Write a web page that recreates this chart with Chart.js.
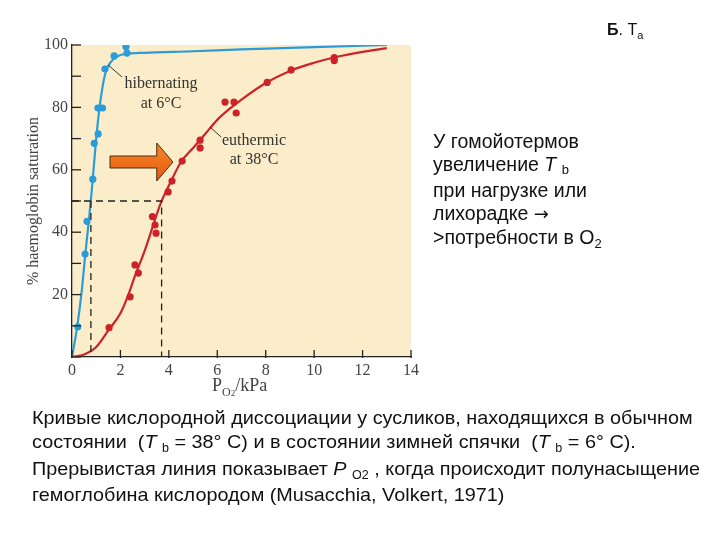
<!DOCTYPE html>
<html>
<head>
<meta charset="utf-8">
<script src="https://cdn.jsdelivr.net/npm/chart.js@4/dist/chart.umd.min.js"></script>
<style>
  body { margin: 0; background: #fff; }
  #wrap { position: relative; width: 720px; height: 540px; overflow: hidden; }
  #c { position: absolute; left: 0; top: 0; }
  .ser { position: absolute; font-family: "Liberation Serif", "Times New Roman", serif; color: #333; white-space: nowrap; }
  .sans { position: absolute; font-family: "Liberation Sans", Arial, sans-serif; color: #111; white-space: nowrap; }
  .cap div { transform-origin: 0 50%; }
</style>
</head>
<body>
<div id="wrap">
  <canvas id="c" width="720" height="540"></canvas>

  <div class="ser" style="left:122px; top:73px; font-size:16px; line-height:20px; text-align:center; width:78px;">hibernating</div>
  <div class="ser" style="left:122px; top:93px; font-size:16px; line-height:20px; text-align:center; width:78px;">at 6°C</div>
  <div class="ser" style="left:219px; top:130px; font-size:16px; line-height:20px; text-align:center; width:70px;">euthermic</div>
  <div class="ser" style="left:219px; top:149px; font-size:16px; line-height:20px; text-align:center; width:70px;">at 38°C</div>
  <div class="ser" style="left:212px; top:375px; font-size:18px; line-height:20px; color:#444;">P<span style="font-size:12px; position:relative; top:5px;">O<span style="font-size:9px;">2</span></span>/kPa</div>

  <div class="sans" style="left:607px; top:21px; font-size:16px; line-height:18px;"><b>Б</b>. Т<span style="font-size:11px; position:relative; top:4px;">а</span></div>

  <div class="sans" style="left:433px; top:130px; font-size:19.5px; line-height:23.4px;">
    У гомойотермов<br>
    увеличение <i>T</i> <span style="font-size:13px; position:relative; top:3px;">b</span><br>
    при нагрузке или<br>
    лихорадке <span style="font-family:'DejaVu Sans'; font-size:18px;">→</span><br>
    &gt;потребности в О<span style="font-size:13px; position:relative; top:4px;">2</span>
  </div>

  <div class="sans cap" id="cap" style="left:32px; top:406px; font-size:19px; line-height:23.8px;">
    <div id="cap1">Кривые кислородной диссоциации у сусликов, находящихся в обычном</div>
    <div>состоянии&nbsp; (<i>T</i> <span style="font-size:12px; position:relative; top:4px;">b</span> = 38° С) и в состоянии зимней спячки&nbsp; (<i>T</i> <span style="font-size:12px; position:relative; top:4px;">b</span> = 6° С).</div>
    <div>Прерывистая линия показывает <i>P</i> <span style="font-size:12px; position:relative; top:4px;">O2</span> , когда происходит полунасыщение</div>
    <div>гемоглобина кислородом (Musacchia, Volkert, 1971)</div>
  </div>
</div>

<script>
// x axis ticks (kPa) and y axis ticks (%)
const xTicks = [0, 2, 4, 6, 8, 10, 12, 14];
const yTicks = [0, 10, 20, 30, 40, 50, 60, 70, 80, 90, 100];

// hibernating at 6°C - measured points
const hibX = [0.24, 0.54, 0.62, 0.86, 0.92, 1.08, 1.07, 1.26, 1.36, 1.74, 2.23, 2.27];
const hibY = [9.7, 33, 43.5, 57, 68.5, 71.5, 79.8, 79.8, 92.3, 96.5, 99.4, 97.4];
// hibernating fitted curve
const hibCurveX = [0, 0.22, 0.4, 0.55, 0.7, 0.8, 0.9, 1.0, 1.1, 1.25, 1.4, 1.6, 1.9, 2.3, 3, 5, 7, 10, 13];
const hibCurveY = [0, 10, 21, 33, 44, 52, 61, 70, 77.5, 86, 91.5, 94.5, 96.5, 97.2, 97.5, 98, 98.6, 99.3, 100];

// euthermic at 38°C - measured points
const euthX = [1.53, 2.4, 2.6, 2.74, 3.32, 3.43, 3.47, 3.97, 4.13, 4.55, 5.29, 5.29, 6.32, 6.69, 6.78, 8.06, 9.05, 10.83, 10.83];
const euthY = [9.4, 19.3, 29.5, 26.9, 45, 42.3, 39.7, 52.9, 56.4, 62.8, 69.5, 67, 81.7, 81.7, 78.2, 88, 92, 96, 95];
// euthermic fitted curve
const euthCurveX = [0, 0.5, 1, 1.5, 2, 2.33, 2.6, 3, 3.3, 3.65, 4.1, 4.5, 5, 5.5, 6, 6.5, 7, 8, 9, 10, 11, 12, 13];
const euthCurveY = [0, 0.8, 3.2, 8.5, 14, 20, 26, 34, 41, 49, 56.5, 62.5, 67, 71.5, 76, 79.5, 82.5, 87.8, 91.7, 94.3, 96.3, 97.8, 99];

// half saturation and P50 values
const halfSat = 50;
const p50Hib = 0.78;
const p50Euth = 3.7;

// arrow: tail, head start, tip (kPa) at this saturation
const arrowX = [1.57, 3.5, 4.17];
const arrowY = 62.5;

// leader lines for the two labels [x1, y1, x2, y2]
const leaderHib = [1.49, 93.6, 2.07, 89.7];
const leaderEuth = [5.70, 73.7, 6.16, 70.5];

const BLUE = '#2b9cd8';
const RED = '#cc2229';

function pts(xs, ys) { return xs.map((x, i) => ({ x: x, y: ys[i] })); }

const bgPlugin = {
  id: 'bg',
  beforeDraw(chart) {
    const a = chart.chartArea, c = chart.ctx;
    c.save();
    c.fillStyle = '#fcedca';
    c.fillRect(a.left, a.top, a.right - a.left, a.bottom - a.top);
    c.restore();
  }
};

const extrasPlugin = {
  id: 'extras',
  afterDatasetsDraw(chart) {
    const c = chart.ctx, xs = chart.scales.x, ys = chart.scales.y;
    const a = chart.chartArea;
    c.save();
    // inward tick marks
    c.strokeStyle = '#222';
    c.lineWidth = 1.3;
    yTicks.forEach(v => {
      const py = ys.getPixelForValue(v);
      c.beginPath(); c.moveTo(a.left - 1, py); c.lineTo(a.left + 9, py); c.stroke();
    });
    xTicks.forEach(v => {
      const px = xs.getPixelForValue(v);
      c.beginPath(); c.moveTo(px, a.bottom + 1); c.lineTo(px, a.bottom - 7); c.stroke();
    });
    // leader lines
    c.lineWidth = 1;
    c.strokeStyle = '#333';
    [leaderHib, leaderEuth].forEach(l => {
      c.beginPath();
      c.moveTo(xs.getPixelForValue(l[0]), ys.getPixelForValue(l[1]));
      c.lineTo(xs.getPixelForValue(l[2]), ys.getPixelForValue(l[3]));
      c.stroke();
    });
    // orange arrow
    const x0 = xs.getPixelForValue(arrowX[0]);
    const x1 = xs.getPixelForValue(arrowX[1]);
    const x2 = xs.getPixelForValue(arrowX[2]);
    const py = ys.getPixelForValue(arrowY);
    const g = c.createLinearGradient(0, py - 20, 0, py + 20);
    g.addColorStop(0, '#f58a2a');
    g.addColorStop(1, '#e8560e');
    c.beginPath();
    c.moveTo(x0, py - 6);
    c.lineTo(x1, py - 6);
    c.lineTo(x1, py - 19);
    c.lineTo(x2, py);
    c.lineTo(x1, py + 19);
    c.lineTo(x1, py + 6);
    c.lineTo(x0, py + 6);
    c.closePath();
    c.fillStyle = g;
    c.fill();
    c.strokeStyle = '#4a2a14';
    c.lineWidth = 1;
    c.stroke();
    c.restore();
  }
};

new Chart(document.getElementById('c'), {
  type: 'scatter',
  data: {
    datasets: [
      {
        data: [{ x: 0, y: halfSat }, { x: p50Euth, y: halfSat }, { x: p50Euth, y: 0 }],
        showLine: true, borderColor: '#222', borderWidth: 1.3, borderDash: [7, 5],
        pointRadius: 0, tension: 0
      },
      {
        data: [{ x: p50Hib, y: halfSat }, { x: p50Hib, y: 0 }],
        showLine: true, borderColor: '#222', borderWidth: 1.3, borderDash: [7, 5],
        pointRadius: 0, tension: 0
      },
      {
        data: pts(hibCurveX, hibCurveY),
        showLine: true, borderColor: BLUE, borderWidth: 2.2,
        pointRadius: 0, cubicInterpolationMode: 'monotone'
      },
      {
        data: pts(euthCurveX, euthCurveY),
        showLine: true, borderColor: RED, borderWidth: 2.2,
        pointRadius: 0, cubicInterpolationMode: 'monotone'
      },
      {
        data: pts(hibX, hibY),
        pointRadius: 3.6, pointBackgroundColor: BLUE, pointBorderWidth: 0
      },
      {
        data: pts(euthX, euthY),
        pointRadius: 3.6, pointBackgroundColor: RED, pointBorderWidth: 0
      }
    ]
  },
  options: {
    responsive: false,
    animation: false,
    layout: { padding: { left: 24, top: 45, right: 309, bottom: 0 } },
    plugins: { legend: { display: false }, tooltip: { enabled: false } },
    scales: {
      x: {
        type: 'linear', min: 0, max: 14,
        afterBuildTicks: s => { s.ticks = xTicks.map(v => ({ value: v })); },
        afterFit: s => { s.height = 183; },
        grid: { drawOnChartArea: false, drawTicks: false },
        border: { color: '#222', width: 1.3 },
        ticks: {
          padding: 4, color: '#444',
          font: { family: '"Liberation Serif", "Times New Roman", serif', size: 16 }
        }
      },
      y: {
        type: 'linear', min: 0, max: 100,
        afterBuildTicks: s => { s.ticks = yTicks.map(v => ({ value: v })); },
        afterFit: s => { s.width = 48; },
        grid: { drawOnChartArea: false, drawTicks: false },
        border: { color: '#222', width: 1.3 },
        ticks: {
          padding: 4, color: '#444',
          font: { family: '"Liberation Serif", "Times New Roman", serif', size: 16 },
          callback: v => (v > 0 && v % 20 === 0) ? String(v) : ''
        },
        title: {
          display: true, text: '% haemoglobin saturation', color: '#444',
          padding: 0,
          font: { family: '"Liberation Serif", "Times New Roman", serif', size: 16 }
        }
      }
    }
  },
  plugins: [bgPlugin, extrasPlugin]
});

// squeeze caption lines to the width they take in the picture
const cap1 = document.getElementById('cap1');
const k = 668 / cap1.getBoundingClientRect().width;
document.querySelectorAll('#cap div').forEach(d => { d.style.transform = 'scaleX(' + k + ')'; });
</script>
</body>
</html>
